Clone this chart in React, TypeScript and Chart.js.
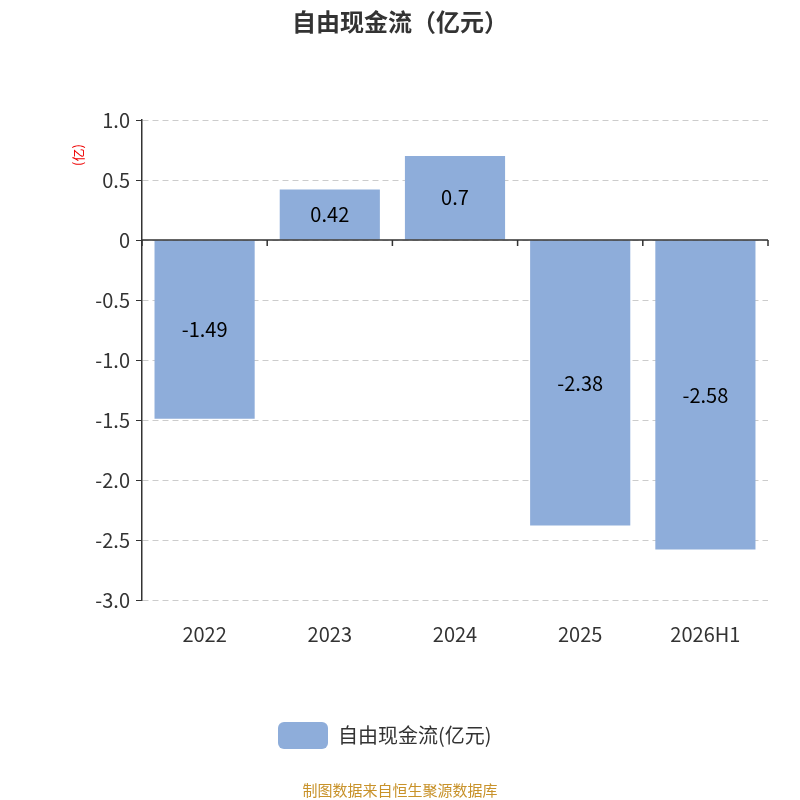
import React, { useEffect, useRef } from "react";
import { Chart, registerables } from "chart.js";
Chart.register(...registerables);

const categories = ["2022", "2023", "2024", "2025", "2026H1"];
const values = [-1.49, 0.42, 0.7, -2.38, -2.58];
const seriesName = "自由现金流(亿元)";
const titleText = "自由现金流（亿元）";
const sourceText = "制图数据来自恒生聚源数据库";
const FONT = "'Noto Sans CJK SC', 'Noto Sans', sans-serif";

export default function App() {
  const ref = useRef<HTMLCanvasElement>(null);
  useEffect(() => {
    document.body.style.margin = "0";
    const deco = {
      id: "deco",
      afterDraw(chart: any) {
        const ctx = chart.ctx;
        const x = chart.scales.x, y = chart.scales.y;
        const y0 = y.getPixelForValue(0);
        ctx.save();
        ctx.strokeStyle = "#333";
        ctx.lineWidth = 1.5;
        ctx.beginPath();
        ctx.moveTo(chart.chartArea.left, y0);
        ctx.lineTo(chart.chartArea.right, y0);
        const n = categories.length;
        const w = (chart.chartArea.right - chart.chartArea.left) / n;
        for (let i = 0; i <= n; i++) {
          const px = chart.chartArea.left + i * w;
          ctx.moveTo(px, y0);
          ctx.lineTo(px, y0 + 6);
        }
        ctx.stroke();
        // labels in bars
        ctx.fillStyle = "#000";
        ctx.font = `20px ${FONT}`;
        ctx.textAlign = "center";
        ctx.textBaseline = "middle";
        const meta = chart.getDatasetMeta(0);
        meta.data.forEach((b: any, i: number) => {
          ctx.fillText(String(values[i]), b.x, (b.y + b.base) / 2);
        });
        // title
        ctx.fillStyle = "#333";
        ctx.font = `bold 24px ${FONT}`;
        ctx.fillText(titleText, 400, 22);
        // y unit
        ctx.save();
        ctx.translate(78, 155);
        ctx.rotate(-Math.PI / 2);
        ctx.fillStyle = "#e00";
        ctx.font = `13px ${FONT}`;
        ctx.fillText("(亿)", 0, 0);
        ctx.restore();
        // legend
        ctx.fillStyle = "#8eadda";
        ctx.beginPath();
        (ctx as any).roundRect(278, 722, 50, 27, 6);
        ctx.fill();
        ctx.fillStyle = "#333";
        ctx.font = `20px ${FONT}`;
        ctx.textAlign = "left";
        ctx.fillText(seriesName, 338, 735);
        // source
        ctx.textAlign = "center";
        ctx.fillStyle = "#c8922a";
        ctx.font = `15px ${FONT}`;
        ctx.fillText(sourceText, 400, 790);
        ctx.restore();
      },
    };
    const chart = new Chart(ref.current!, {
      type: "bar",
      data: {
        labels: categories,
        datasets: [{ label: seriesName, data: values, backgroundColor: "#8eadda", barPercentage: 0.8, categoryPercentage: 1 }],
      },
      options: {
        animation: false,
        responsive: false,
        layout: { padding: { top: 120, right: 32, bottom: 150, left: 0 } },
        plugins: { legend: { display: false }, title: { display: false }, tooltip: { enabled: false } },
        scales: {
          x: {
            grid: { display: false },
            border: { display: false },
            ticks: { font: { size: 20, family: FONT }, color: "#333", padding: 14 },
            afterFit: (s: any) => { s.height = 50; },
          },
          y: {
            min: -3, max: 1,
            ticks: { stepSize: 0.5, font: { size: 20, family: FONT }, color: "#333", padding: 6 },
            grid: { color: "#ccc", tickColor: "#333", tickLength: 6, drawOnChartArea: true },
            border: { display: true, color: "#333", width: 1.5, dash: [6, 4] } as any,
            afterFit: (s: any) => { s.width = 142; },
          },
        },
      },
      plugins: [deco],
    });
    return () => chart.destroy();
  }, []);
  return <canvas ref={ref} width={800} height={800} style={{ display: "block" }} />;
}
